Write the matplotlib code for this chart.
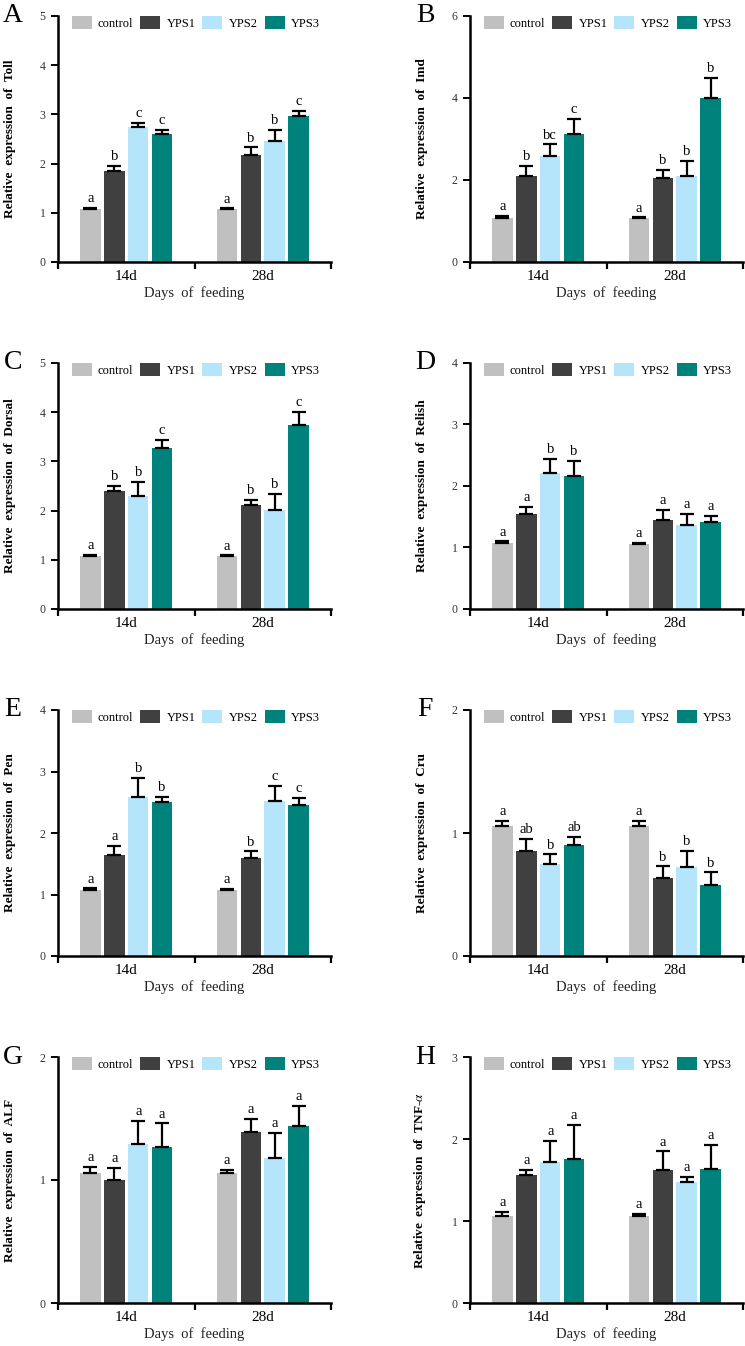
import matplotlib.pyplot as plt
import numpy as np

plt.rcParams["font.family"] = ["Liberation Serif", "DejaVu Serif"]
plt.rcParams["mathtext.fontset"] = "stix"

# ---------------- data ----------------
days = ["14d", "28d"]
treatments = ["control", "YPS1", "YPS2", "YPS3"]
colors = ["#c0c0c0", "#404040", "#b4e5fb", "#00827c"]

panel_ids = ["A", "B", "C", "D", "E", "F", "G", "H"]
genes = ["Toll", "Imd", "Dorsal", "Relish", "Pen", "Cru", "ALF", "TNF-$\\alpha$"]
y_max = [5, 6, 5, 4, 4, 2, 2, 3]
y_step = [1, 2, 1, 1, 1, 1, 1, 1]

# rows = days (14d, 28d), columns = treatments
toll_mean = [[1.07, 1.85, 2.74, 2.60], [1.07, 2.18, 2.46, 2.97]]
toll_err = [[0.03, 0.10, 0.09, 0.08], [0.02, 0.15, 0.23, 0.10]]
toll_sig = [["a", "b", "c", "c"], ["a", "b", "b", "c"]]

imd_mean = [[1.07, 2.09, 2.59, 3.12], [1.07, 2.05, 2.09, 3.99]]
imd_err = [[0.05, 0.26, 0.28, 0.37], [0.02, 0.19, 0.37, 0.50]]
imd_sig = [["a", "b", "bc", "c"], ["a", "b", "b", "b"]]

dorsal_mean = [[1.07, 2.39, 2.29, 3.27], [1.07, 2.12, 2.01, 3.73]]
dorsal_err = [[0.03, 0.11, 0.30, 0.17], [0.02, 0.10, 0.33, 0.28]]
dorsal_sig = [["a", "b", "b", "c"], ["a", "b", "b", "c"]]

relish_mean = [[1.07, 1.54, 2.21, 2.16], [1.06, 1.45, 1.36, 1.41]]
relish_err = [[0.03, 0.12, 0.23, 0.25], [0.02, 0.16, 0.19, 0.10]]
relish_sig = [["a", "a", "b", "b"], ["a", "a", "a", "a"]]

pen_mean = [[1.07, 1.64, 2.59, 2.51], [1.07, 1.59, 2.52, 2.46]]
pen_err = [[0.03, 0.15, 0.31, 0.08], [0.02, 0.11, 0.25, 0.11]]
pen_sig = [["a", "a", "b", "b"], ["a", "b", "c", "c"]]

cru_mean = [[1.06, 0.855, 0.746, 0.90], [1.06, 0.638, 0.727, 0.58]]
cru_err = [[0.04, 0.10, 0.08, 0.066], [0.04, 0.09, 0.13, 0.10]]
cru_sig = [["a", "ab", "b", "ab"], ["a", "b", "b", "b"]]

alf_mean = [[1.06, 1.00, 1.29, 1.27], [1.057, 1.39, 1.18, 1.44]]
alf_err = [[0.045, 0.10, 0.19, 0.19], [0.025, 0.11, 0.20, 0.16]]
alf_sig = [["a", "a", "a", "a"], ["a", "a", "a", "a"]]

tnf_mean = [[1.065, 1.56, 1.72, 1.76], [1.065, 1.62, 1.47, 1.64]]
tnf_err = [[0.045, 0.065, 0.26, 0.41], [0.025, 0.23, 0.07, 0.29]]
tnf_sig = [["a", "a", "a", "a"], ["a", "a", "a", "a"]]

means = [toll_mean, imd_mean, dorsal_mean, relish_mean, pen_mean, cru_mean, alf_mean, tnf_mean]
errs = [toll_err, imd_err, dorsal_err, relish_err, pen_err, cru_err, alf_err, tnf_err]
sigs = [toll_sig, imd_sig, dorsal_sig, relish_sig, pen_sig, cru_sig, alf_sig, tnf_sig]

# ---------------- layout ----------------
W, H = 745, 1346
fig = plt.figure(figsize=(W / 100, H / 100), dpi=100)
col_left = [58, 470]
row_top = [16, 363, 710, 1057]
ax_w, ax_h = 273, 246

bar_w = 0.15
step = 0.175

for k in range(8):
    r, c = divmod(k, 2)
    ax = fig.add_axes([col_left[c] / W, 1 - (row_top[r] + ax_h) / H, ax_w / W, ax_h / H])

    handles = []
    for i, t in enumerate(treatments):
        xs = np.arange(len(days)) + 0.5 + (i - 1.5) * step
        m = [means[k][g][i] for g in range(len(days))]
        e = [errs[k][g][i] for g in range(len(days))]
        b = ax.bar(xs, m, width=bar_w, color=colors[i], zorder=2, label=t)
        handles.append(b)
        ax.errorbar(xs, m, yerr=[[0] * len(e), e], fmt="none", ecolor="black",
                    elinewidth=1.6, capsize=5, capthick=1.6, zorder=3)
        for g in range(len(days)):
            ax.annotate(sigs[k][g][i], (xs[g], m[g] + e[g]), xytext=(0, 2),
                        textcoords="offset points", ha="center", va="bottom",
                        fontsize=10.5)

    ax.set_xlim(0, 2)
    ax.set_ylim(0, y_max[k])
    ax.set_yticks(np.arange(0, y_max[k] + 0.01, y_step[k]))
    ax.set_xticks([0, 1, 2])
    ax.set_xticklabels([])
    ax.set_xticks([0.5, 1.5], minor=True)
    ax.set_xticklabels(days, minor=True, fontsize=11)
    ax.tick_params(axis="x", which="minor", length=0, pad=6)
    ax.tick_params(axis="x", which="major", length=5, width=1.6, direction="out")
    ax.tick_params(axis="y", length=5, width=1.4, pad=4, labelsize=8.5, labelcolor="#333333")

    for s in ["top", "right"]:
        ax.spines[s].set_visible(False)
    for s in ["left", "bottom"]:
        ax.spines[s].set_linewidth(1.8)

    ax.set_xlabel("Days  of  feeding", fontsize=10.5, labelpad=2, color="#222222")
    ax.set_ylabel("Relative  expression  of  " + genes[k], fontsize=9.5, fontweight="bold")
    ax.yaxis.set_label_coords(-0.155, 0.5)

    ax.legend(handles=handles, loc="upper left", bbox_to_anchor=(0.05, 1.0), ncol=4,
              frameon=False, fontsize=9, handlelength=1.6, handleheight=1.2,
              handletextpad=0.5, columnspacing=0.55, borderpad=0, borderaxespad=0)

    ax.text(-0.165, 1.0, panel_ids[k], transform=ax.transAxes, fontsize=20,
            ha="center", va="center")

fig.savefig("out.png", dpi=100)
